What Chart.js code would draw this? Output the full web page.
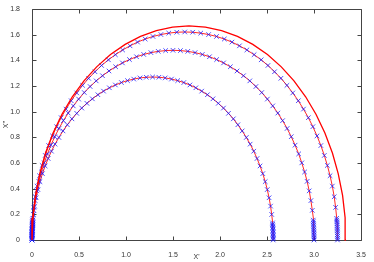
<!DOCTYPE html>
<html>
<head>
<meta charset="utf-8">
<script src="https://cdn.jsdelivr.net/npm/chart.js@4/dist/chart.umd.min.js"></script>
<style>
html,body{margin:0;padding:0;background:#fff;}
#c{display:block;}
</style>
</head>
<body>
<canvas id="c" width="374" height="262"></canvas>
<script>
// Axis ranges / tick steps
const xRange = [0, 3.5];
const yRange = [0, 1.8];
const xStep = 0.5;
const yStep = 0.2;
const xTitle = "X'";
const yTitle = "X''";

// Inner arc (red line, blue x markers)
const innerX = [2.566,2.566,2.566,2.566,2.565,2.565,2.564,2.564,2.563,2.562,2.561,2.560,2.559,2.550,2.538,2.522,2.503,2.481,2.455,2.426,2.394,2.359,2.321,2.280,2.236,2.190,2.142,2.090,2.037,1.982,1.925,1.866,1.805,1.743,1.680,1.615,1.550,1.484,1.417,1.350,1.283,
1.216,1.149,1.082,1.016,0.951,0.887,0.823,0.761,0.701,0.642,0.584,0.529,0.476,0.425,0.376,0.330,0.286,0.245,0.207,0.172,0.140,0.111,0.085,0.063,0.044,0.028,0.016,0.007,0.006,0.005,0.004,0.003,0.002,0.002,0.001,0.001,0.000,0.000,0.000,0];
const innerY = [0,0.011,0.022,0.033,0.044,0.055,0.067,0.078,0.089,0.100,0.111,0.122,0.133,0.199,0.264,0.329,0.393,0.455,0.517,0.577,0.635,0.692,0.747,0.799,0.850,0.898,0.944,0.987,1.028,1.065,1.100,1.132,1.160,1.186,1.208,1.227,1.242,1.254,1.263,1.268,1.270,
1.268,1.263,1.254,1.242,1.227,1.208,1.186,1.160,1.132,1.100,1.065,1.028,0.987,0.944,0.898,0.850,0.799,0.747,0.692,0.635,0.577,0.517,0.455,0.393,0.329,0.264,0.199,0.133,0.122,0.111,0.100,0.089,0.078,0.067,0.055,0.044,0.033,0.022,0.011,0];

// Middle arc
const midX = [3.000,3.000,3.000,2.999,2.999,2.999,2.998,2.997,2.996,2.995,2.994,2.993,2.992,2.982,2.967,2.949,2.927,2.900,2.870,2.837,2.799,2.758,2.714,2.666,2.615,2.561,2.504,2.444,2.382,2.317,2.250,2.181,2.110,2.038,1.964,1.888,1.812,1.735,1.657,1.579,1.500,
1.422,1.343,1.265,1.188,1.112,1.037,0.962,0.890,0.819,0.750,0.683,0.618,0.556,0.496,0.439,0.385,0.334,0.287,0.242,0.201,0.164,0.130,0.100,0.073,0.051,0.033,0.019,0.008,0.007,0.006,0.005,0.004,0.003,0.002,0.001,0.001,0.001,0.000,0.000,0];
const midY = [0,0.013,0.026,0.039,0.052,0.064,0.077,0.090,0.103,0.116,0.129,0.142,0.155,0.231,0.307,0.383,0.457,0.530,0.601,0.671,0.739,0.805,0.869,0.930,0.989,1.045,1.098,1.149,1.196,1.240,1.280,1.317,1.350,1.380,1.406,1.428,1.446,1.460,1.470,1.476,1.478,
1.476,1.470,1.460,1.446,1.428,1.406,1.380,1.350,1.317,1.280,1.240,1.196,1.149,1.098,1.045,0.989,0.930,0.869,0.805,0.739,0.671,0.601,0.530,0.457,0.383,0.307,0.231,0.155,0.142,0.129,0.116,0.103,0.090,0.077,0.064,0.052,0.039,0.026,0.013,0];

// Outer marked arc
const outerX = [3.250,3.250,3.250,3.249,3.249,3.248,3.248,3.247,3.246,3.245,3.244,3.243,3.241,3.230,3.215,3.195,3.171,3.142,3.110,3.073,3.032,2.988,2.940,2.888,2.833,2.774,2.712,2.648,2.580,2.510,2.438,2.363,2.286,2.207,2.127,2.046,1.963,1.879,1.795,1.710,1.625,
1.540,1.455,1.371,1.287,1.204,1.123,1.043,0.964,0.887,0.813,0.740,0.670,0.602,0.538,0.476,0.417,0.362,0.310,0.262,0.218,0.177,0.141,0.108,0.080,0.055,0.036,0.020,0.009,0.007,0.006,0.005,0.004,0.003,0.002,0.002,0.001,0.001,0.000,0.000,0];
const outerY = [0,0.014,0.028,0.042,0.057,0.071,0.085,0.099,0.113,0.127,0.141,0.155,0.169,0.254,0.337,0.420,0.501,0.581,0.659,0.736,0.811,0.883,0.953,1.020,1.085,1.146,1.205,1.260,1.311,1.360,1.404,1.444,1.481,1.513,1.542,1.566,1.586,1.601,1.612,1.619,1.621,
1.619,1.612,1.601,1.586,1.566,1.542,1.513,1.481,1.444,1.404,1.360,1.311,1.260,1.205,1.146,1.085,1.020,0.953,0.883,0.811,0.736,0.659,0.581,0.501,0.420,0.337,0.254,0.169,0.155,0.141,0.127,0.113,0.099,0.085,0.071,0.057,0.042,0.028,0.014,0];

// Outermost plain red curve
const redX = [3.340,3.331,3.304,3.258,3.196,3.116,3.021,2.911,2.787,2.652,2.505,2.349,2.186,2.017,1.845,1.670,1.495,1.323,1.154,0.991,0.835,0.688,0.553,0.429,0.319,0.224,0.144,0.082,0.037,0.009,0];
const redY = [0,0.174,0.347,0.515,0.678,0.834,0.980,1.116,1.240,1.349,1.445,1.524,1.586,1.632,1.659,1.668,1.659,1.632,1.586,1.524,1.445,1.349,1.240,1.116,0.980,0.834,0.678,0.515,0.347,0.174,0];

function pts(xs, ys){ return xs.map((v,i)=>({x:v, y:ys[i]})); }

const AXIS = '#444';
const TICKLEN = 4;

const framePlugin = {
  id: 'frame',
  beforeDatasetsDraw(chart){
    const {ctx, chartArea:a, scales:{x, y}} = chart;
    ctx.save();
    ctx.strokeStyle = AXIS;
    ctx.lineWidth = 1;
    const L = Math.round(a.left)+0.5, R = Math.round(a.right)+0.5;
    const T = Math.round(a.top)+0.5, B = Math.round(a.bottom)+0.5;
    ctx.beginPath();
    ctx.rect(L, T, R-L, B-T);
    x.ticks.forEach(t=>{
      const p = Math.round(x.getPixelForValue(t.value))+0.5;
      ctx.moveTo(p, B); ctx.lineTo(p, B-TICKLEN);
      ctx.moveTo(p, T); ctx.lineTo(p, T+TICKLEN);
    });
    y.ticks.forEach(t=>{
      const p = Math.round(y.getPixelForValue(t.value))+0.5;
      ctx.moveTo(L, p); ctx.lineTo(L+TICKLEN, p);
      ctx.moveTo(R, p); ctx.lineTo(R-TICKLEN, p);
    });
    ctx.stroke();
    ctx.restore();
  }
};

const markerDS = (xs, ys) => ({
  data: pts(xs, ys),
  showLine: true,
  borderColor: 'rgba(255,0,0,0.85)',
  borderWidth: 1,
  pointStyle: 'crossRot',
  pointRadius: 3.2,
  pointBorderColor: 'rgba(20,20,255,0.75)',
  pointBackgroundColor: 'rgba(20,20,255,0.75)',
  pointBorderWidth: 1,
  tension: 0,
  clip: false
});

const font = {family: "'Liberation Sans', Arial, sans-serif", size: 7};

new Chart(document.getElementById('c'), {
  type: 'scatter',
  data: {
    datasets: [
      {
        data: pts(redX, redY),
        showLine: true,
        borderColor: '#ff0000',
        borderWidth: 1.3,
        pointRadius: 0,
        tension: 0,
        clip: false
      },
      markerDS(outerX, outerY),
      markerDS(midX, midY),
      markerDS(innerX, innerY)
    ]
  },
  options: {
    responsive: false,
    animation: false,
    events: [],
    layout: {padding: {left: 0, right: 13, top: 9, bottom: 0}},
    plugins: {legend: {display: false}, tooltip: {enabled: false}},
    scales: {
      x: {
        type: 'linear',
        min: xRange[0], max: xRange[1],
        grid: {display: false},
        border: {display: false},
        ticks: {stepSize: xStep, color: '#333', font: font, padding: 3, maxRotation: 0},
        title: {display: true, text: xTitle, color: '#333', font: font, padding: {top: 0, bottom: 1}},
        afterFit(s){ s.height = 22; }
      },
      y: {
        type: 'linear',
        min: yRange[0], max: yRange[1],
        grid: {display: false},
        border: {display: false},
        ticks: {stepSize: yStep, color: '#333', font: font, padding: 4},
        title: {display: true, text: yTitle, color: '#333', font: font, padding: {top: 2, bottom: 0}},
        afterFit(s){ s.width = 32; }
      }
    }
  },
  plugins: [framePlugin]
});
</script>
</body>
</html>
